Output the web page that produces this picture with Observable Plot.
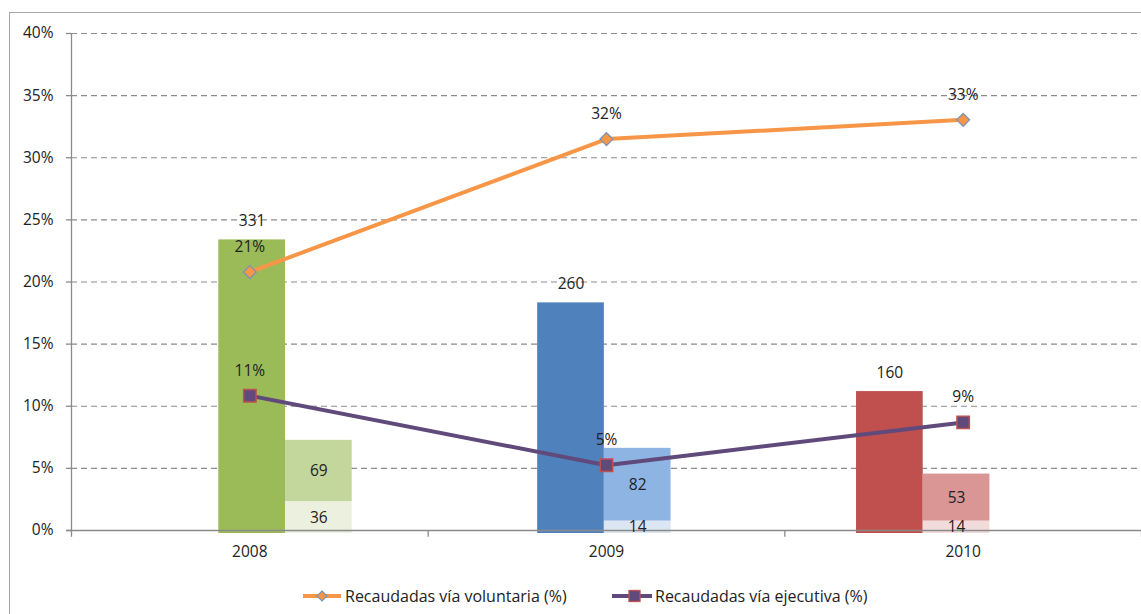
<!DOCTYPE html>
<html><head><meta charset="utf-8">
<script src="https://cdn.jsdelivr.net/npm/d3@7"></script>
<script src="https://cdn.jsdelivr.net/npm/@observablehq/plot@0.6"></script>
<style>
html,body{margin:0;padding:0;background:#fff;overflow:hidden;width:1141px;height:614px;}
#frame{position:absolute;left:9px;top:12px;width:1200px;height:700px;border:1.5px solid #a6a6a6;box-sizing:border-box}
#chart{position:absolute;left:0;top:0}
#legend{position:absolute;top:585px;left:0;width:1141px;height:22px;font:16px "Open Sans",sans-serif;color:#222}
#legend .item{position:absolute;top:0;height:22px;display:flex;align-items:center;white-space:nowrap}
#legend svg{display:block}
</style></head><body>
<div id="frame"></div>
<div id="chart"></div>
<div id="legend"></div>
<script>
// ---- data ----
const years = ["2008", "2009", "2010"];
const totals = [331, 260, 160];
const upperPart = [69, 82, 53];
const lowerPart = [36, 14, 14];
const voluntaria = [20.8, 31.5, 33.05];
const ejecutiva = [10.85, 5.25, 8.7];
const voluntariaLabels = ["21%", "32%", "33%"];
const ejecutivaLabels = ["11%", "5%", "9%"];
const yTicks = [0, 5, 10, 15, 20, 25, 30, 35, 40];
const seriesNames = ["Recaudadas vía voluntaria (%)", "Recaudadas vía ejecutiva (%)"];

// ---- palette ----
const mainFill = ["#9BBB59", "#4F81BD", "#C0504D"];
const upperFill = ["#C3D69B", "#8EB4E3", "#D99694"];
const lowerFill = ["#EBF1DE", "#DCE6F2", "#F2DCDB"];
const orange = "#F79646", purple = "#604A7B";
const FS = 15.5;

// counts are drawn on a hidden secondary axis, projected onto the % axis
const countToPct = v => v * 0.07139 - 0.2414;
const idx = years.map((_, i) => i);
const bw = 0.187;                       // bar width in category units
const gc = i => 0.6 + i * 0.894;        // bar group split position
const px = 1070 / 3;                    // pixels per category unit

const chart = Plot.plot({
  width: 1141, height: 570,
  marginLeft: 71, marginRight: 0, marginTop: 33, marginBottom: 40,
  x: {domain: [0, 3], axis: null},
  y: {domain: [0, 40], axis: null},
  style: {fontFamily: "'Open Sans', sans-serif", fontSize: FS + "px", color: "#222", background: "transparent"},
  marks: [
    Plot.gridY(yTicks.filter(d => d > 0), {stroke: "#8a8a8a", strokeOpacity: 1, strokeDasharray: "6,4", strokeWidth: 1.2}),
    // main bars
    Plot.rect(idx, {x1: i => gc(i) - bw, x2: i => gc(i), y1: countToPct(0), y2: i => countToPct(totals[i]), fill: i => mainFill[i]}),
    // stacked light bars
    Plot.rect(idx, {x1: i => gc(i), x2: i => gc(i) + bw, y1: countToPct(0), y2: i => countToPct(lowerPart[i]), fill: i => lowerFill[i]}),
    Plot.rect(idx, {x1: i => gc(i), x2: i => gc(i) + bw, y1: i => countToPct(lowerPart[i]), y2: i => countToPct(lowerPart[i] + upperPart[i]), fill: i => upperFill[i]}),
    // axes lines and ticks
    Plot.ruleY([0], {stroke: "#8a8a8a", strokeWidth: 1.3, x1: -5 / px, x2: 3}),
    Plot.ruleX([0], {stroke: "#8a8a8a", strokeWidth: 1.3, y1: -0.55, y2: 40}),
    Plot.ruleX([1, 2, 3], {stroke: "#8a8a8a", strokeWidth: 1.3, y1: -0.55, y2: 0}),
    Plot.ruleY(yTicks, {stroke: "#8a8a8a", strokeWidth: 1.3, x1: -5 / px, x2: 0}),
    Plot.axisY(yTicks, {tickSize: 0, tickPadding: 18, tickFormat: d => d + "%", fill: "#222", fontSize: FS}),
    Plot.axisX([0.5, 1.5, 2.5], {tickSize: 0, tickPadding: 15, tickFormat: d => years[Math.floor(d)], fill: "#222", fontSize: FS}),
    // bar labels
    Plot.text(idx, {x: i => gc(i) - bw / 2, y: i => countToPct(totals[i]), text: i => String(totals[i]), dy: -19, fill: "#222", fontSize: FS}),
    Plot.text(idx, {x: i => gc(i) + bw / 2, y: i => countToPct(lowerPart[i] + upperPart[i] / 2), text: i => String(upperPart[i]), fill: "#222", fontSize: FS}),
    Plot.text(idx, {x: i => gc(i) + bw / 2, y: i => countToPct(lowerPart[i] / 2), text: i => String(lowerPart[i]), fill: "#222", fontSize: FS}),
    // lines
    Plot.line(idx, {x: i => i + 0.5, y: i => voluntaria[i], stroke: orange, strokeWidth: 4}),
    Plot.line(idx, {x: i => i + 0.5, y: i => ejecutiva[i], stroke: purple, strokeWidth: 4}),
    Plot.dot(idx, {x: i => i + 0.5, y: i => voluntaria[i], symbol: "diamond2", r: 5.8, fill: orange, stroke: "#7F93B3", strokeWidth: 1.3}),
    Plot.dot(idx, {x: i => i + 0.5, y: i => ejecutiva[i], symbol: "square", r: 7, fill: purple, stroke: "#C0504D", strokeWidth: 1.5}),
    Plot.text(idx, {x: i => i + 0.5, y: i => voluntaria[i], text: i => voluntariaLabels[i], dy: -25, fill: "#222", fontSize: FS}),
    Plot.text(idx, {x: i => i + 0.5, y: i => ejecutiva[i], text: i => ejecutivaLabels[i], dy: -25, fill: "#222", fontSize: FS})
  ]
});
document.getElementById("chart").appendChild(chart);

// legend
const legend = document.getElementById("legend");
legend.innerHTML = `
<div class="item" style="left:303px">
  <svg width="42" height="22"><line x1="0" x2="38" y1="11" y2="11" stroke="${orange}" stroke-width="4"/>
  <path d="M19,6 L24,11 L19,16 L14,11 Z" fill="${orange}" stroke="#7F93B3" stroke-width="1.2"/></svg>
  <span>${seriesNames[0]}</span></div>
<div class="item" style="left:612px">
  <svg width="43" height="22"><line x1="0" x2="40" y1="11" y2="11" stroke="${purple}" stroke-width="4"/>
  <rect x="17" y="5.5" width="11" height="11" fill="${purple}" stroke="#C0504D" stroke-width="1.3"/></svg>
  <span>${seriesNames[1]}</span></div>`;
</script>
</body></html>
